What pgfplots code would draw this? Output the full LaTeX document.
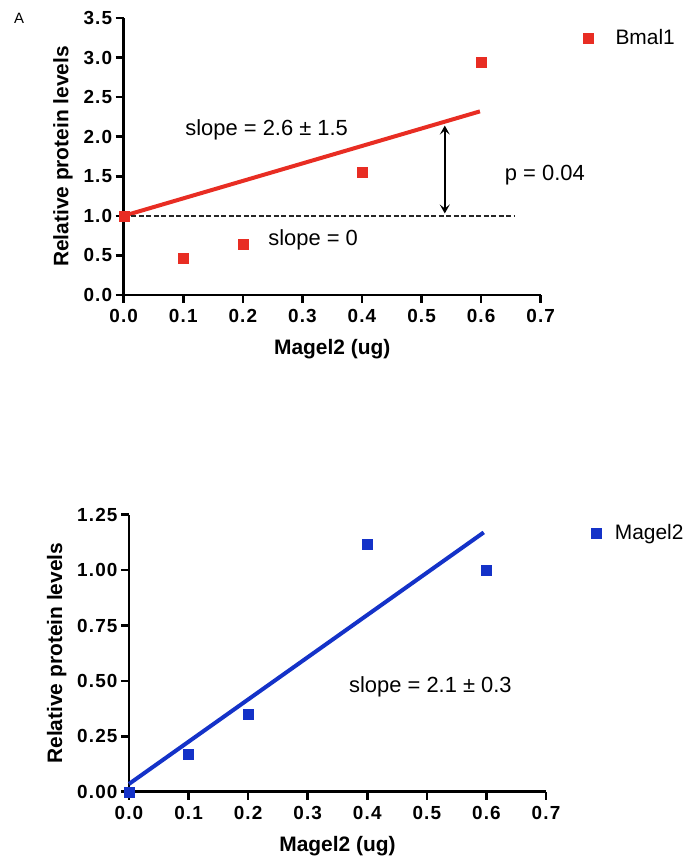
\documentclass[border=0pt]{standalone}
\usepackage{fontspec}
\setmainfont{Liberation Sans}
\newfontfamily\tickfont[LetterSpace=6]{Liberation Sans}
\usepackage{pgfplots}
\usetikzlibrary{arrows.meta}
\pgfplotsset{compat=1.18}
\definecolor{myred}{RGB}{232,45,35}
\definecolor{myblue}{RGB}{20,50,200}
\pgfplotsset{
  myaxis/.style={
    scale only axis, width=417bp, height=277bp,
    axis lines=left, axis line style={line width=2.8bp,-},
    tick style={line width=2.5bp,black}, tick align=outside, major tick length=8bp,
    xmin=0, xmax=0.7, xtick={0,0.1,0.2,0.3,0.4,0.5,0.6,0.7},
    /pgf/number format/assume math mode=true,
    ticklabel style={font=\fontsize{19}{21}\tickfont\bfseries},
    xticklabel style={yshift=-3bp,/pgf/number format/fixed,/pgf/number format/fixed zerofill,/pgf/number format/precision=1},
    label style={font=\fontsize{21}{23}\selectfont\bfseries},
    xlabel shift={10bp}, ylabel shift={4bp},
    clip=false,
    legend style={draw=none, fill=none, font=\fontsize{21}{23}\selectfont, anchor=west},
    legend cell align=left,
    legend image code/.code={\draw[#1] plot coordinates {(0.3cm,0cm)};},
  }
}
\begin{document}
\begin{tikzpicture}[x=1bp,y=1bp]
\path (0,0) rectangle (694bp,861bp);
\node[font=\fontsize{15}{16}\selectfont, anchor=center] at (19bp,843bp) {A};
% top
\begin{axis}[myaxis, at={(123.7bp,566bp)}, anchor=south west,
  ymin=0, ymax=3.5, ytick={0,0.5,1,1.5,2,2.5,3,3.5},
  yticklabel style={/pgf/number format/fixed,/pgf/number format/fixed zerofill,/pgf/number format/precision=1},
  xlabel={Magel2 (ug)}, ylabel={Relative protein levels},
  legend style={at={(rel axis cs:1.095,0.928)}, /tikz/every odd column/.append style={column sep=20bp}}]
\addplot[only marks, mark=square*, mark size=5bp, color=myred] coordinates {(0,1.0) (0.1,0.46) (0.2,0.64) (0.4,1.55) (0.6,2.94)};
\addlegendentry{Bmal1}
\addplot[myred, line width=4bp, forget plot] coordinates {(0,1.0) (0.598,2.32)};
\addplot[black!85, line width=1.5bp, dash pattern=on 5bp off 2.5bp, forget plot] coordinates {(0,1.0) (0.655,1.0)};
\draw[{Stealth[length=9bp,width=10bp,inset=4bp]}-{Stealth[length=9bp,width=10bp,inset=4bp]}, line width=2bp] (axis cs:0.539,1.03) -- (axis cs:0.539,2.14);
\node[font=\fontsize{22}{24}\selectfont] at (axis cs:0.240,2.085) {slope = 2.6 ± 1.5};
\node[font=\fontsize{22}{24}\selectfont] at (axis cs:0.318,0.695) {slope = 0};
\node[font=\fontsize{22}{24}\selectfont] at (axis cs:0.707,1.516) {p = 0.04};
\end{axis}
% bottom
\begin{axis}[myaxis, at={(129bp,69.3bp)}, anchor=south west,
  ymin=0, ymax=1.25, ytick={0,0.25,0.5,0.75,1,1.25},
  yticklabel style={/pgf/number format/fixed,/pgf/number format/fixed zerofill,/pgf/number format/precision=2},
  xlabel={Magel2 (ug)}, ylabel={Relative protein levels},
  legend style={at={(rel axis cs:1.1,0.934)}, /tikz/every odd column/.append style={column sep=12bp}}]
\addplot[only marks, mark=square*, mark size=5bp, color=myblue] coordinates {(0,0.0) (0.1,0.168) (0.2,0.348) (0.4,1.118) (0.6,0.998)};
\addlegendentry{Magel2}
\addplot[myblue, line width=4bp, forget plot] coordinates {(0,0.035) (0.5955,1.17)};
\node[font=\fontsize{22}{24}\selectfont] at (axis cs:0.506,0.472) {slope = 2.1 ± 0.3};
\end{axis}
\end{tikzpicture}
\end{document}
